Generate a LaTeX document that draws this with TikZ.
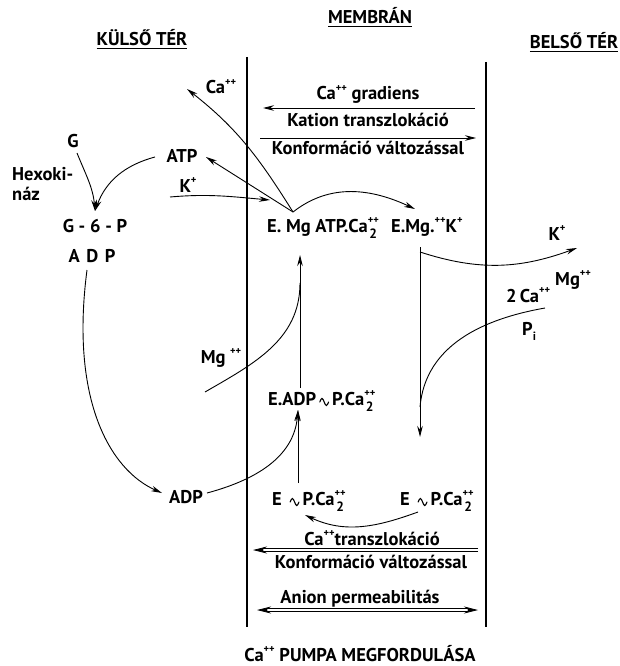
\documentclass[tikz,border=0pt]{standalone}
\usepackage{fontspec}
\setmainfont{PT Sans}
\usetikzlibrary{arrows.meta}
\newcommand\up[1]{\raisebox{0.9ex}{\fontsize{10.5}{10.5}\selectfont#1}}
\newcommand\dn[1]{\raisebox{-0.6ex}{\fontsize{12}{12}\selectfont#1}}
\newcommand\updn[2]{\ooalign{\up{#1}\cr\hfil\raisebox{-0.75ex}{\fontsize{13.5}{13.5}\selectfont#2}\hfil\cr}}
\newcommand\hb{\,\tikz[baseline=0pt,x=1pt,y=1pt]\draw[line width=1.1pt,line cap=round] (0,3) sin (2.2,6.5) cos (4.4,3) sin (6.6,-0.5) cos (8.8,3);\,}
\newcommand\ul[1]{\setbox0\hbox{#1}\rlap{\rule[-3.5pt]{\wd0}{1.3pt}}\box0}
\tikzset{
  lbl/.style={anchor=base, inner sep=0pt, font=\fontsize{18.5}{21}\selectfont\bfseries},
  arr/.style={-{Stealth[length=11pt,width=5.5pt]}, line width=0.9pt},
  ln/.style={line width=0.9pt},
  mem/.style={line width=1.8pt},
  bigtip/.style={-{Stealth[length=14pt,width=7pt]}, line width=0.8pt},
}
\begin{document}
\begin{tikzpicture}[x=1pt,y=-1pt]
\useasboundingbox[fill=white] (0,0) rectangle (619,666);
% headers
\node[lbl] (membran) at (370,24) {\ul{MEMBRÁN}};
\node[lbl] (kulso) at (142,46) {\ul{KÜLSŐ TÉR}};
\node[lbl] (belso) at (574,49) {\ul{BELSŐ TÉR}};
% membrane
\coordinate (mlt) at (247,57); \coordinate (mlb) at (247,627);
\coordinate (mrt) at (486,62); \coordinate (mrb) at (486,627);
\draw[mem] (mlt) -- (mlb);
\draw[mem] (mrt) -- (mrb);
% top block
\node[lbl] (grad) at (368,100) {Ca\up{++} gradiens};
\coordinate (g1) at (475,108); \coordinate (g2) at (263,108);
\draw[arr] (g1) -- (g2);
\node[lbl] (kat) at (368,127) {Kation transzlokáció};
\coordinate (k1) at (260,138); \coordinate (k2) at (476,138);
\draw[arr] (k1) -- (k2);
\node[lbl] (konf1) at (368,154) {Konformáció változással};
% left labels
\node[lbl] (caout) at (221,94) {Ca\up{++}};
\node[lbl] (atp) at (182,162) {ATP};
\node[lbl] (kin) at (188,192) {K\up{+}};
\node[lbl] (G) at (73,147) {G};
\node[lbl, anchor=base west] (hexo) at (12,180) {Hexoki-};
\node[lbl, anchor=base west] (naz) at (12,200) {náz};
\node[lbl] (g6p) at (95,232) {G - 6 - P};
\node[lbl] (adp1) at (92,262) {A\hspace{0.35em}D\hspace{0.35em}P};
\node[lbl] (adp2) at (186,503) {ADP};
\node[lbl] (mgin) at (221,363) {Mg \up{++}};
% middle labels
\node[lbl, anchor=base west] (emgatp) at (267,232) {E. Mg ATP.Ca\updn{++}{2}};
\node[lbl, anchor=base west] (emgk) at (391,232) {E.Mg.\up{++}K\up{+}};
\node[lbl, anchor=base west] (eadp) at (268,405) {E.ADP\hb P.Ca\updn{++}{2}};
\node[lbl, anchor=base west] (epl) at (272,505) {E \hb P.Ca\updn{++}{2}};
\node[lbl, anchor=base west] (epr) at (400,505) {E \hb P.Ca\updn{++}{2}};
% right labels
\node[lbl] (kout) at (557,240) {K\up{+}};
\node[lbl, anchor=base west] (mgout) at (555,285) {Mg\up{++}};
\node[lbl, anchor=base west] (ca2) at (506,302) {2\,Ca\up{++}};
\node[lbl, anchor=base west] (pi) at (522,335) {P\dn{i}};
% bottom block
\node[lbl] (catr) at (372,545) {Ca\up{++}transzlokáció};
\coordinate (d1) at (478,550); \coordinate (d2) at (253,550);
\draw[ln] ([yshift=1.2pt]d1) -- ([xshift=9pt,yshift=1.2pt]d2);
\draw[ln] ([yshift=-1.2pt]d1) -- ([xshift=9pt,yshift=-1.2pt]d2);
\draw[bigtip] ([xshift=10pt]d2) -- (d2);
\node[lbl] (konf2) at (371,568) {Konformáció változással};
\node[lbl] (anion) at (360,603) {Anion permeabilitás};
\coordinate (a1) at (257,610); \coordinate (a2) at (478,610);
\draw[ln] ([xshift=9pt,yshift=1.2pt]a1) -- ([xshift=-9pt,yshift=1.2pt]a2);
\draw[ln] ([xshift=9pt,yshift=-1.2pt]a1) -- ([xshift=-9pt,yshift=-1.2pt]a2);
\draw[bigtip] ([xshift=10pt]a1) -- (a1);
\draw[bigtip] ([xshift=-10pt]a2) -- (a2);
\node[lbl] (title) at (360,661) {Ca\up{++} PUMPA MEGFORDULÁSA};
% connectors
\coordinate (J) at (293,212);
\coordinate (caTip) at (187,89);
\draw[arr] (J) to[out=122,in=-38] (caTip);
\coordinate (atpTip) at (206,157);
\draw[arr] (J) -- (atpTip);
\coordinate (kS) at (170,197); \coordinate (kT) at (270,200);
\draw[arr] (kS) to[out=5,in=175] (kT);
\coordinate (emgkTip) at (415,209);
\draw[arr] (J) to[out=38,in=155] (emgkTip);
\coordinate (gS) at (77,153); \coordinate (g6pTip) at (95,211);
\draw[arr] (gS) to[out=-68,in=95] (g6pTip);
\coordinate (atpS) at (155,157);
\draw[arr] (atpS) to[out=195,in=70] (g6pTip);
\coordinate (adpS) at (87,270); \coordinate (adpTip) at (162,493);
\draw[arr] (adpS) .. controls (70,400) and (110,470) .. (adpTip);
\coordinate (adp2S) at (207,493); \coordinate (eadpTip) at (298,410);
\draw[arr] (adp2S) to[out=15,in=-95] (eadpTip);
\coordinate (eplTop) at (298,483);
\draw[arr] (eplTop) -- (eadpTip);
\coordinate (eadpTop) at (300,388); \coordinate (emgTip) at (300,255);
\draw[arr] (eadpTop) -- (emgTip);
\coordinate (mgS) at (205,392); \coordinate (mgJ) at (300,283);
\draw[ln] (mgS) to[out=30,in=-90] (mgJ);
\coordinate (emkBot) at (420,247); \coordinate (downTip) at (420,437);
\draw[arr] (emkBot) -- (downTip);
\coordinate (kS2) at (420,252); \coordinate (koutTip) at (577,248);
\draw[arr] (kS2) to[out=-18,in=200] (koutTip);
\coordinate (caS) at (545,308); \coordinate (caJ) at (420,407);
\draw[ln] (caS) to[out=190,in=85] (caJ);
\coordinate (eprS) at (418,512); \coordinate (eplTip) at (305,515);
\draw[arr] (eprS) to[out=200,in=-25] (eplTip);
\end{tikzpicture}
\end{document}
